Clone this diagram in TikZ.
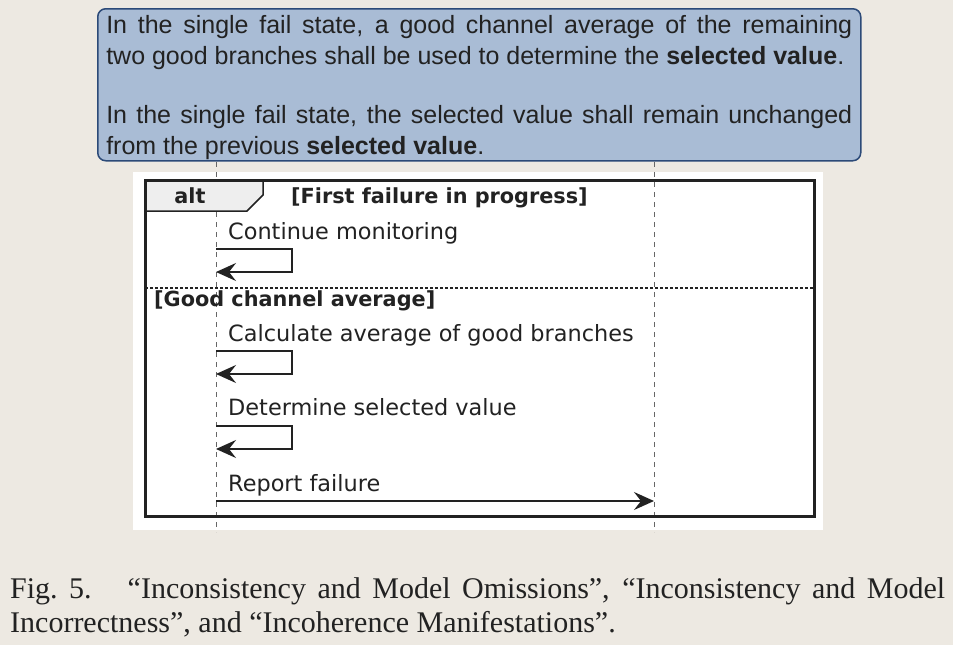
\documentclass[tikz,border=0pt]{standalone}
\usepackage{fontspec}
\setmainfont{Liberation Serif}
\newfontfamily\notefont{Liberation Sans}
\newfontfamily\umlfont{DejaVu Sans}
\usetikzlibrary{arrows.meta}
\hyphenpenalty=10000
\definecolor{paper}{HTML}{EDE9E2}
\definecolor{notefill}{HTML}{A9BCD5}
\definecolor{noteline}{HTML}{2C4A78}
\definecolor{ink}{HTML}{222222}
\definecolor{tabfill}{HTML}{EEEEEE}
\tikzset{
    notebox/.style = {draw=noteline, line width=1.5pt, fill=notefill, rounded corners=8pt, text=ink,
        font=\notefont\fontsize{25}{31}\selectfont, align=justify},
    lifeline/.style = {draw=black!60, line width=1pt, dash pattern=on 5pt off 5pt},
    frame/.style = {draw=ink, line width=3pt},
    tabbox/.style = {draw=ink, line width=1.5pt, fill=tabfill},
    sep/.style = {draw=ink, line width=1.2pt, dash pattern=on 3pt off 2pt},
    guard/.style = {font=\umlfont\bfseries\fontsize{20.8}{24}\selectfont, text=ink, inner sep=0pt, anchor=base west},
    msgtext/.style = {font=\umlfont\fontsize{22.4}{26}\selectfont, text=ink, inner sep=0pt, anchor=base west},
    msg/.style = {draw=ink, line width=1.5pt, -{Stealth[length=20pt, width=18pt, inset=7pt]}}
}

\begin{document}
\begin{tikzpicture}[x=1pt, y=-1pt]
\useasboundingbox[fill=paper] (0,0) rectangle (953,645);

% Note
\node[notebox, anchor=north west, text width=746pt, inner xsep=8.5pt, inner ysep=0pt, minimum height=152pt] (note) at (97,8)
    {\rule{0pt}{24pt}In the single fail state, a good channel average of the remaining\linebreak two good branches shall be used to determine the \textbf{selected value}.\par\vspace{28pt}In the single fail state, the selected value shall remain unchanged\linebreak from the previous \textbf{selected value}.};

% Sequence canvas
\fill[white] (133,172) rectangle (823,530);

% Lifelines
\coordinate (leftTop) at (216,162);
\coordinate (leftBot) at (216,532);
\coordinate (rightTop) at (654,162);
\coordinate (rightBot) at (654,532);
\draw[lifeline] (leftTop) -- (leftBot);
\draw[lifeline] (rightTop) -- (rightBot);

% Else separator
\draw[sep] (145,288) -- (814,288);

% alt tab and frame
\draw[tabbox] (145,181) -- (263,181) -- (263,195) -- (247,211) -- (145,211) -- cycle;
\draw[frame] (145,180) rectangle (814,516);

% Guards
\node[guard, anchor=base] (alt) at (190,203) {alt};
\node[guard] (firstGuard) at (291,203) {[First failure in progress]};
\node[guard] (goodGuard) at (154,306) {[Good channel average]};

% Messages
\node[msgtext] (contMon) at (228,239) {Continue monitoring};
\coordinate (m1s) at (216,249);
\coordinate (m1e) at (216,272);
\draw[msg] (m1s) -- ++(76,0) |- (m1e);

\node[msgtext] (calcAvg) at (228,341) {Calculate average of good branches};
\coordinate (m2s) at (216,351);
\coordinate (m2e) at (216,374);
\draw[msg] (m2s) -- ++(76,0) |- (m2e);

\node[msgtext] (detSel) at (228,415) {Determine selected value};
\coordinate (m3s) at (216,426);
\coordinate (m3e) at (216,449);
\draw[msg] (m3s) -- ++(76,0) |- (m3e);

\node[msgtext] (repFail) at (228,491) {Report failure};
\coordinate (m4s) at (216,501);
\coordinate (m4e) at (654,501);
\draw[msg] (m4s) -- (m4e);

% Caption
\node[anchor=north west, text width=935pt, inner sep=0pt, align=justify, text=ink,
    font=\fontsize{30}{34}\selectfont] (caption) at (10,577)
    {Fig.~5.\hspace{1.2em}“Inconsistency and Model Omissions”, “Inconsistency and Model\linebreak Incorrectness”, and “Incoherence Manifestations”.};
\end{tikzpicture}
\end{document}
